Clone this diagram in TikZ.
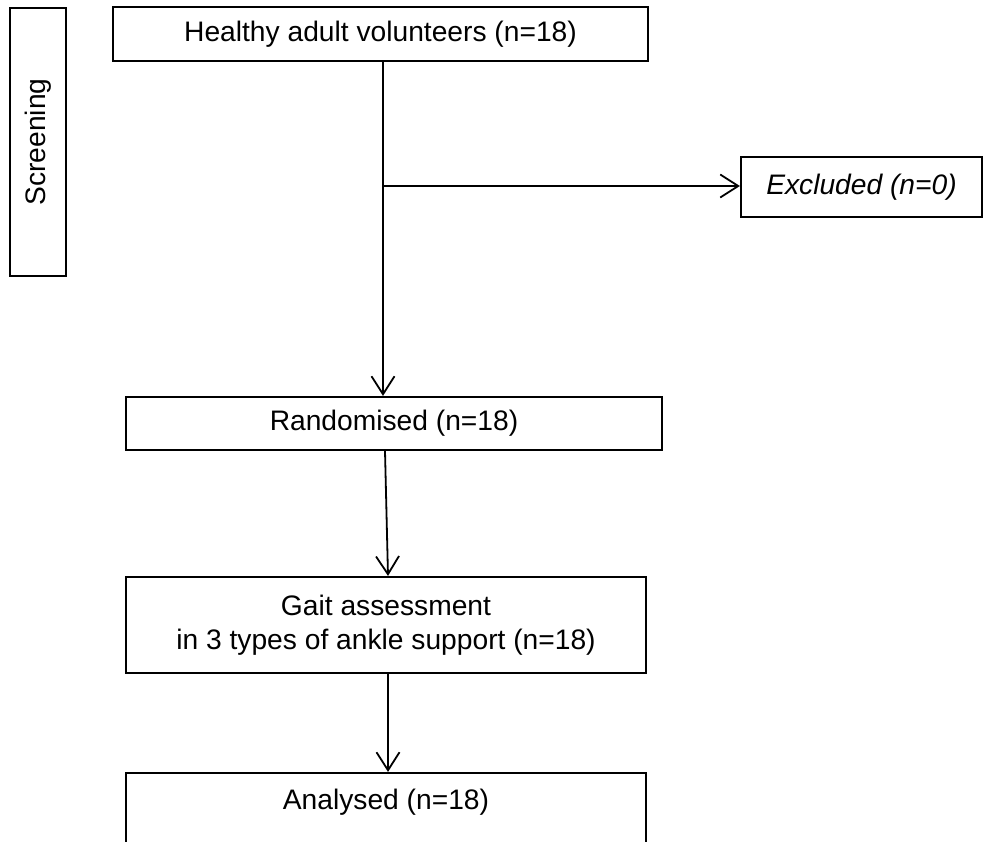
\documentclass[tikz,border=0pt]{standalone}
\usepackage{fontspec}
\setmainfont{Liberation Sans}
\usetikzlibrary{arrows.meta,calc}
\begin{document}
\begin{tikzpicture}[x=1pt,y=-1pt,
  txt/.style={font=\fontsize{28.2pt}{34pt}\selectfont},
  box/.style={draw, line width=2.2pt, rectangle, inner sep=0pt, align=center, txt},
  conn/.style={line width=1.8pt, -{Straight Barb[length=18pt,width=23pt,line width=1.8pt]}},
  plain/.style={line width=1.8pt}]
\useasboundingbox (0,0) rectangle (984,841);
\clip (0,0) rectangle (984,841);
% nodes
\node[box, minimum width=56pt, minimum height=268pt] (scr) at (38,142) {};
\node[txt, rotate=90] (scrtext) at (38,142) {Screening};
\node[box, minimum width=535pt, minimum height=54pt] (hav) at (380.5,34) {\raisebox{-2pt}{Healthy adult volunteers (n=18)}};
\node[box, minimum width=241pt, minimum height=60pt] (exc) at (861.5,187) {\itshape Excluded (n=0)};
\node[box, minimum width=536pt, minimum height=53pt] (rnd) at (394,423.5) {Randomised (n=18)};
\node[box, minimum width=520pt, minimum height=96pt] (gait) at (386,625) {Gait assessment\\in 3 types of ankle support (n=18)};
\node[box, minimum width=520pt, text height=20pt, text depth=90pt, inner ysep=16pt, anchor=base] (ana) at (386,809) {Analysed (n=18)};
% connectors
\coordinate (br) at (383,186);
\draw[conn] (hav.south -| br) -- (rnd.north -| br);
\draw[conn] (br) -- (br -| exc.west);
\draw[conn] ($(rnd.south)+(-9,0)$) -- ($(gait.north)+(2,0)$);
\draw[conn] ($(gait.south)+(2,0)$) -- ($(ana.north)+(2,0)$);
\end{tikzpicture}
\end{document}
